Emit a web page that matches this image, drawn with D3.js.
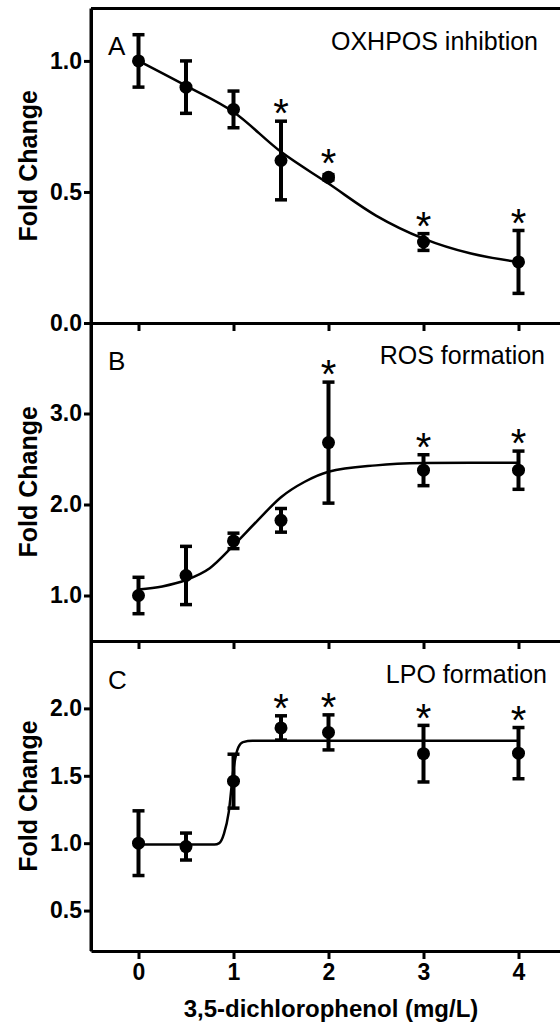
<!DOCTYPE html>
<meta charset="utf-8">
<script src="https://d3js.org/d3.v7.min.js"></script>
<style>
  body { margin: 0; background: #fff; }
  text { font-family: 'Liberation Sans', Arial, sans-serif; }
</style>
<body>
<div id="my_dataviz"></div>
<script>

// doses (mg/L)
var doses = [0, 0.5, 1, 1.5, 2, 3, 4];

// A: OXHPOS inhibition
var oxMean = [1.0, 0.9, 0.815, 0.62, 0.556, 0.309, 0.233];
var oxErr  = [0.1, 0.1, 0.07, 0.15, 0.01, 0.032, 0.12];
var oxSig  = [0, 0, 0, 1, 1, 1, 1];
var oxFitX = [0, 0.5, 1, 1.5, 2, 2.5, 3, 3.5, 4];
var oxFitY = [1.0, 0.905, 0.805, 0.653, 0.532, 0.41, 0.322, 0.265, 0.233];

// B: ROS formation
var rosMean = [1.0, 1.22, 1.6, 1.826, 2.68, 2.377, 2.377];
var rosErr  = [0.2, 0.32, 0.085, 0.13, 0.665, 0.17, 0.21];
var rosSig  = [0, 0, 0, 0, 1, 1, 1];
var rosFitX = [0, 0.25, 0.5, 0.75, 1, 1.25, 1.5, 1.75, 2, 2.5, 3, 3.5, 4];
var rosFitY = [1.066, 1.1, 1.17, 1.3, 1.55, 1.82, 2.08, 2.25, 2.36, 2.43, 2.455, 2.46, 2.46];

// C: LPO formation
var lpoMean = [1.0, 0.975, 1.46, 1.855, 1.822, 1.664, 1.668];
var lpoErr  = [0.24, 0.1, 0.2, 0.09, 0.13, 0.21, 0.19];
var lpoSig  = [0, 0, 0, 1, 1, 1, 1];
var lpoFitX = [0, 0.8, 0.85, 0.9, 0.95, 1.0, 1.05, 1.1, 1.2, 4];
var lpoFitY = [0.99, 0.99, 1.0, 1.07, 1.23, 1.55, 1.71, 1.75, 1.76, 1.76];

var xTicks = [0, 1, 2, 3, 4];

var W = 560, H = 1030;
var left = 91, right = 566;

var svg = d3.select("#my_dataviz")
  .append("svg")
    .attr("width", W)
    .attr("height", H);

svg.append("rect").attr("width", W).attr("height", H).attr("fill", "#fff");

var x = d3.scaleLinear()
  .domain([-0.5, 4.5])
  .range([left, right]);

var panels = [
  { letter: "A", title: "OXHPOS inhibtion", mean: oxMean, err: oxErr, sig: oxSig, fx: oxFitX, fy: oxFitY,
    domain: [0, 1.2], top: 8.5, bottom: 323, ticks: [0, 0.5, 1.0], titleX: 538 },
  { letter: "B", title: "ROS formation", mean: rosMean, err: rosErr, sig: rosSig, fx: rosFitX, fy: rosFitY,
    domain: [0.5, 4.0], top: 322.5, bottom: 641, ticks: [1, 2, 3], titleX: 545 },
  { letter: "C", title: "LPO formation", mean: lpoMean, err: lpoErr, sig: lpoSig, fx: lpoFitX, fy: lpoFitY,
    domain: [0.2, 2.5], top: 641, bottom: 951, ticks: [0.5, 1.0, 1.5, 2.0], titleX: 547, last: true }
];

panels.forEach(function(p) {
  var y = d3.scaleLinear().domain(p.domain).range([p.bottom, p.top]);
  var g = svg.append("g");

  // fitted curve
  var line = d3.line()
    .x(function(d) { return x(d[0]); })
    .y(function(d) { return y(d[1]); })
    .curve(d3.curveMonotoneX);
  g.append("path")
    .datum(d3.zip(p.fx, p.fy))
    .attr("fill", "none")
    .attr("stroke", "#000")
    .attr("stroke-width", 2.5)
    .attr("d", line);

  var pts = doses.map(function(d, i) {
    return { x: d, m: p.mean[i], e: p.err[i], s: p.sig[i] };
  });

  // error bars
  var eb = g.selectAll(".eb").data(pts).enter().append("g");
  eb.append("line")
    .attr("x1", function(d) { return x(d.x); })
    .attr("x2", function(d) { return x(d.x); })
    .attr("y1", function(d) { return y(d.m - d.e); })
    .attr("y2", function(d) { return y(d.m + d.e); })
    .attr("stroke", "#000").attr("stroke-width", 4);
  [1, -1].forEach(function(sgn) {
    eb.append("line")
      .attr("x1", function(d) { return x(d.x) - 6; })
      .attr("x2", function(d) { return x(d.x) + 6; })
      .attr("y1", function(d) { return y(d.m + sgn * d.e); })
      .attr("y2", function(d) { return y(d.m + sgn * d.e); })
      .attr("stroke", "#000").attr("stroke-width", 3.5);
  });

  g.selectAll(".dot").data(pts).enter().append("circle")
    .attr("cx", function(d) { return x(d.x); })
    .attr("cy", function(d) { return y(d.m); })
    .attr("r", 6.5)
    .attr("fill", "#000");

  // significance stars
  var fs = 40;
  g.selectAll(".star").data(pts.filter(function(d) { return d.s; })).enter().append("text")
    .attr("x", function(d) { return x(d.x); })
    .attr("y", function(d) {
      var top = Math.min(y(d.m + d.e), y(d.m) - 6.5);
      return top - 17 + 0.58 * fs;
    })
    .attr("text-anchor", "middle")
    .style("font-size", fs + "px")
    .text("*");

  // axes
  var ya = g.append("g")
    .attr("transform", "translate(" + left + ",0)")
    .call(d3.axisLeft(y).tickValues(p.ticks).tickSize(7).tickSizeOuter(0).tickFormat(d3.format(".1f")));
  var xa = g.append("g")
    .attr("transform", "translate(0," + p.bottom + ")")
    .call(d3.axisBottom(x).tickValues(xTicks).tickSize(8).tickSizeOuter(0)
      .tickFormat(p.last ? d3.format("d") : ""));

  [ya, xa].forEach(function(a) {
    a.select(".domain").attr("stroke-width", 3);
    a.selectAll(".tick line").attr("stroke-width", 3);
    a.selectAll(".tick text")
      .style("font-size", "23px")
      .style("font-weight", "bold")
      .attr("fill", "#000");
  });
  ya.selectAll(".tick text").attr("x", -9);
  xa.selectAll(".tick text").attr("y", 13);

  // left spine covers full panel height
  g.append("line")
    .attr("x1", left).attr("x2", left)
    .attr("y1", p.top).attr("y2", p.bottom)
    .attr("stroke", "#000").attr("stroke-width", 3);

  g.append("text")
    .attr("x", 108)
    .attr("y", p.top + (p.letter == "A" ? 46.5 : 47.5))
    .style("font-size", "26px")
    .text(p.letter);

  g.append("text")
    .attr("x", p.titleX)
    .attr("y", p.top + 41.5)
    .attr("text-anchor", "end")
    .style("font-size", "25px")
    .text(p.title);

  g.append("text")
    .attr("transform", "translate(37," + ((p.top + p.bottom) / 2) + ") rotate(-90)")
    .attr("text-anchor", "middle")
    .style("font-size", "25px")
    .style("font-weight", "bold")
    .text("Fold Change");
});

// frame top of panel A
svg.append("line")
  .attr("x1", left).attr("x2", right)
  .attr("y1", 8.5).attr("y2", 8.5)
  .attr("stroke", "#000").attr("stroke-width", 3);

svg.append("text")
  .attr("x", 331)
  .attr("y", 1017)
  .attr("text-anchor", "middle")
  .style("font-size", "24px")
  .style("font-weight", "bold")
  .text("3,5-dichlorophenol (mg/L)");

</script>
</body>
